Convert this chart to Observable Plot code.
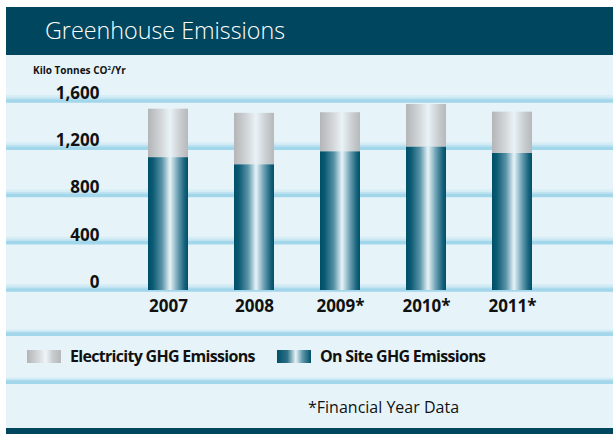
<!DOCTYPE html>
<html><head><meta charset="utf-8">
<script src="https://cdn.jsdelivr.net/npm/d3@7"></script>
<script src="https://cdn.jsdelivr.net/npm/@observablehq/plot@0.6"></script>
<style>
html,body{margin:0;padding:0;background:#fff;}
#root{position:relative;width:613px;height:434px;overflow:hidden;font-family:"Open Sans","Noto Sans",sans-serif;}
.abs{position:absolute;}
#bg{left:6px;top:7px;width:607px;height:421px;background:#e6f4f9;}
#header{left:6px;top:7px;width:607px;height:48px;background:#00465e;}
#title{left:45px;top:15px;color:#fff;font-size:23.3px;font-weight:300;line-height:30px;white-space:nowrap;}
#footbar{left:6px;top:428px;width:607px;height:6px;background:#00465e;}
#unit{left:33px;top:61px;font-size:10px;font-weight:700;color:#111;line-height:14px;white-space:nowrap;}
#unit sup{font-size:6px;vertical-align:4px;}
#chart{left:6px;top:80px;}
.sep{left:6px;width:607px;height:7px;background:linear-gradient(to bottom, rgba(162,214,234,0) 0%, rgba(162,214,234,0.55) 40%, #a2d6ea 55%, #a2d6ea 100%);}
.legtxt{font-size:16px;font-weight:700;color:#111;line-height:20px;white-space:nowrap;letter-spacing:-0.7px;}
.sw{width:34px;height:13px;}
#foot{left:308px;top:396px;font-size:16px;color:#111;line-height:22px;white-space:nowrap;}
</style></head>
<body>
<div id="root">
  <div id="bg" class="abs"></div>
  <div id="header" class="abs"></div>
  <div id="title" class="abs">Greenhouse Emissions</div>
  <div id="unit" class="abs">Kilo Tonnes CO<sup>2</sup>/Yr</div>
  <div id="chart" class="abs"></div>
  <div class="abs sep" style="top:329px"></div>
  <div class="abs sep" style="top:377px"></div>
  <div class="abs sw" style="left:27px;top:350px;background:linear-gradient(to right,#b2b4b6 0%,#d7dadc 35%,#eef5f8 55%,#c9cdd0 75%,#b5b7b9 100%);"></div>
  <div class="abs legtxt" style="left:70px;top:346px">Electricity GHG Emissions</div>
  <div class="abs sw" style="left:277px;top:350px;background:linear-gradient(to right,#00506a 0%,#2c6f86 30%,#e6f3f7 55%,#5f97ab 75%,#00506a 100%);"></div>
  <div class="abs legtxt" style="left:320px;top:346px">On Site GHG Emissions</div>
  <div id="foot" class="abs">*Financial Year Data</div>
  <div id="footbar" class="abs"></div>
</div>
<script>
// Data
const years = ["2007", "2008", "2009*", "2010*", "2011*"];
const onSite = [1125, 1065, 1175, 1215, 1160];
const electricity = [410, 435, 330, 360, 350];
const yTicks = [0, 400, 800, 1200, 1600];
const seriesNames = ["On Site GHG Emissions", "Electricity GHG Emissions"];

const rows = [];
years.forEach((yr, i) => rows.push({year: yr, series: seriesNames[0], value: onSite[i]}));
years.forEach((yr, i) => rows.push({year: yr, series: seriesNames[1], value: electricity[i]}));

const NS = "http://www.w3.org/2000/svg";
function gradientDefs() {
  const defs = document.createElementNS(NS, "defs");
  defs.innerHTML = `
    <linearGradient id="tealGrad" x1="0" x2="1" y1="0" y2="0">
      <stop offset="0" stop-color="#004f68"/>
      <stop offset="0.12" stop-color="#0a5a73"/>
      <stop offset="0.35" stop-color="#5a93a7"/>
      <stop offset="0.55" stop-color="#e7f4f8"/>
      <stop offset="0.75" stop-color="#6b9fb2"/>
      <stop offset="0.92" stop-color="#15627a"/>
      <stop offset="1" stop-color="#004f68"/>
    </linearGradient>
    <linearGradient id="grayGrad" x1="0" x2="1" y1="0" y2="0">
      <stop offset="0" stop-color="#b3b5b7"/>
      <stop offset="0.35" stop-color="#d5d9db"/>
      <stop offset="0.55" stop-color="#e9f3f7"/>
      <stop offset="0.78" stop-color="#cdd1d4"/>
      <stop offset="1" stop-color="#b6b8ba"/>
    </linearGradient>`;
  return defs;
}

const chart = Plot.plot({
  width: 607,
  height: 256,
  marginTop: 21,
  marginBottom: 46,
  marginLeft: 0,
  marginRight: 0,
  style: {background: "transparent", overflow: "visible", fontFamily: "'Open Sans','Noto Sans',sans-serif"},
  x: {domain: years, range: [95, 572], padding: 0.535, axis: null},
  y: {domain: [0, 1600], axis: null},
  color: {domain: seriesNames, range: ["url(#tealGrad)", "url(#grayGrad)"]},
  marks: [
    gradientDefs,
    // gridline bands (soft fade above a solid line)
    Plot.ruleY(yTicks, {stroke: "#d6edf6", strokeWidth: 3, dy: -5}),
    Plot.ruleY(yTicks, {stroke: "#bfe3f1", strokeWidth: 2, dy: -3}),
    Plot.ruleY(yTicks, {stroke: "#a2d6ea", strokeWidth: 3.5, dy: -0.5}),
    Plot.barY(rows, Plot.stackY({x: "year", y: "value", fill: "series", order: seriesNames})),
    Plot.text(yTicks, {
      y: d => d, text: d => d3.format(",")(d), frameAnchor: "left", dx: 93, dy: -8,
      textAnchor: "end", fontSize: 17, fontWeight: 700, fill: "#111"
    }),
    Plot.text(years, {
      x: d => d, text: d => d, frameAnchor: "bottom", dy: 21,
      fontSize: 17, fontWeight: 700, fill: "#111"
    })
  ]
});
document.getElementById("chart").appendChild(chart);
</script>
</body></html>
